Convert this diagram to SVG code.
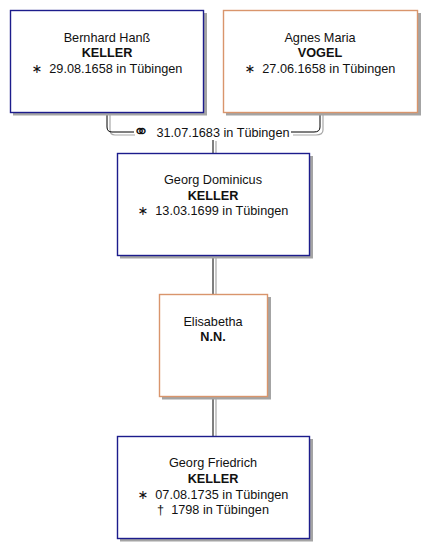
<svg xmlns="http://www.w3.org/2000/svg" width="436" height="558" viewBox="0 0 436 558">
<style>
.shadow{fill:#a4a4a4}
.box{fill:#fff;stroke-width:1.4}
.m{stroke:#1c1c8c}
.f{stroke:#d9956c}
text{font-family:"Liberation Sans",Arial,sans-serif;font-size:12.7px;fill:#111;text-anchor:middle}
.b{font-weight:bold}
.ln{fill:none;stroke:#000;stroke-width:1}
.sh{fill:none;stroke:#a8a8a8;stroke-width:1.2}
.sym{font-family:"DejaVu Sans",sans-serif}
</style>
<rect width="436" height="558" fill="#fff"/>
<g id="connectors">
<path class="sh" d="M110,113 V130 Q110,135 115,135 H135 M293,135 H316 Q323,135 323,130 V113"/>
<path class="ln" d="M107,112 V127 Q107,132 112,132 H134 M291,132 H314 Q320,132 320,127 V112"/>
<path class="sh" d="M216,141 V153 M216,256 V294 M216,397 V436"/>
<path class="ln" d="M213,140 V153 M213,255 V294 M213,396 V436"/>
<text x="141" y="138" class="sym" style="font-size:19px">⚭</text>
<text x="223" y="136.5">31.07.1683 in Tübingen</text>
</g>
<g id="n1">
<rect class="shadow" x="13" y="13" width="194" height="102.5"/>
<rect class="box m" x="10.5" y="10.5" width="193" height="102"/>
<text x="107" y="42">Bernhard Hanß</text>
<text x="107" y="57" class="b">KELLER</text>
<text x="107" y="73" xml:space="preserve"><tspan class="sym">∗</tspan>  29.08.1658 in Tübingen</text>
</g>
<g id="n2">
<rect class="shadow" x="226" y="13" width="195" height="102.5"/>
<rect class="box f" x="223.5" y="10.5" width="194" height="102"/>
<text x="320" y="42">Agnes Maria</text>
<text x="320" y="57" class="b">VOGEL</text>
<text x="320" y="73" xml:space="preserve"><tspan class="sym">∗</tspan>  27.06.1658 in Tübingen</text>
</g>
<g id="n3">
<rect class="shadow" x="120" y="156" width="193" height="102.5"/>
<rect class="box m" x="117.5" y="153.5" width="192" height="102"/>
<text x="213" y="184">Georg Dominicus</text>
<text x="213" y="199.5" class="b">KELLER</text>
<text x="213" y="215" xml:space="preserve"><tspan class="sym">∗</tspan>  13.03.1699 in Tübingen</text>
</g>
<g id="n4">
<rect class="shadow" x="162" y="297" width="109" height="102.5"/>
<rect class="box f" x="159.5" y="294.5" width="108" height="102"/>
<text x="213" y="325.5">Elisabetha</text>
<text x="213" y="341" class="b">N.N.</text>
</g>
<g id="n5">
<rect class="shadow" x="120" y="439" width="193" height="102.5"/>
<rect class="box m" x="117.5" y="436.5" width="192" height="102"/>
<text x="213" y="467">Georg Friedrich</text>
<text x="213" y="483" class="b">KELLER</text>
<text x="213" y="499" xml:space="preserve"><tspan class="sym">∗</tspan>  07.08.1735 in Tübingen</text>
<text x="213" y="514" xml:space="preserve">†  1798 in Tübingen</text>
</g>
</svg>
